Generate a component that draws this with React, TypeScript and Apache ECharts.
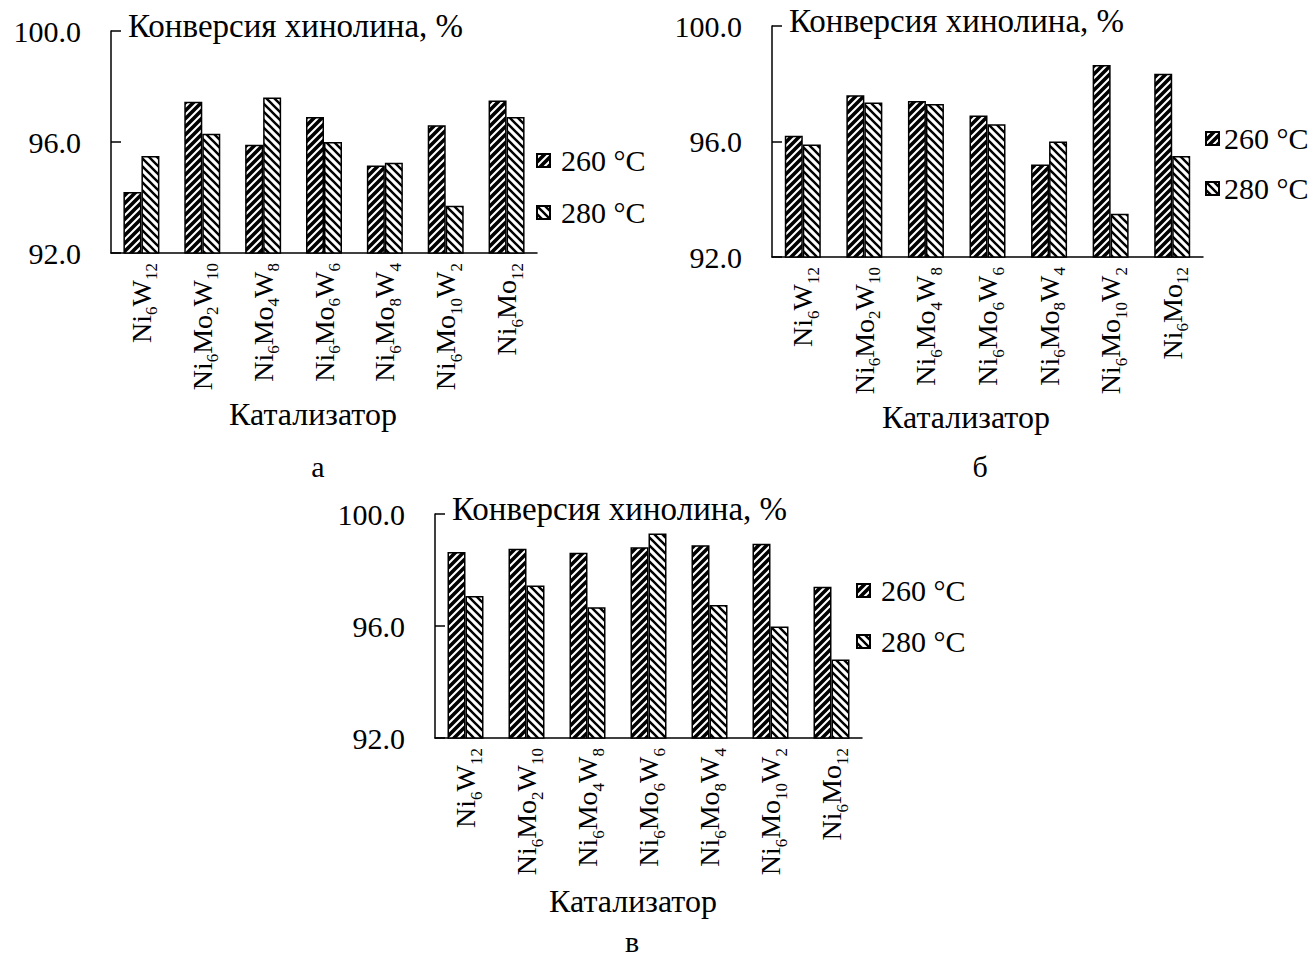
import React, { useEffect, useRef } from 'react';
import * as echarts from 'echarts';

const categories = ['Ni6W12', 'Ni6Mo2W10', 'Ni6Mo4W8', 'Ni6Mo6W6', 'Ni6Mo8W4', 'Ni6Mo10W2', 'Ni6Mo12'];
const seriesNames = ['260 °C', '280 °C'];
const yTicks = [92, 96, 100];

const a260 = [94.2, 97.45, 95.9, 96.9, 95.15, 96.6, 97.5];
const a280 = [95.5, 96.3, 97.6, 96.0, 95.25, 93.7, 96.9];
const b260 = [96.2, 97.6, 97.4, 96.9, 95.2, 98.65, 98.35];
const b280 = [95.9, 97.35, 97.3, 96.6, 96.0, 93.5, 95.5];
const c260 = [98.64, 98.76, 98.62, 98.81, 98.88, 98.94, 97.4];
const c280 = [97.07, 97.45, 96.67, 99.3, 96.75, 95.98, 94.8];

const yTitle = 'Конверсия хинолина, %';
const xTitle = 'Катализатор';
const panelLetters = ['а', 'б', 'в'];

const FONT = '"Liberation Serif", "Times New Roman", serif';

function makePattern(dir: 'up' | 'down', lw: number) {
  const T = 8;
  const c = document.createElement('canvas');
  c.width = T;
  c.height = T;
  const ctx = c.getContext('2d')!;
  ctx.fillStyle = '#fff';
  ctx.fillRect(0, 0, T, T);
  ctx.strokeStyle = '#000';
  ctx.lineWidth = lw;
  ctx.lineCap = 'square';
  for (let k = -1; k <= 1; k++) {
    ctx.beginPath();
    if (dir === 'up') {
      ctx.moveTo(k * T, T);
      ctx.lineTo(k * T + T, 0);
    } else {
      ctx.moveTo(k * T, 0);
      ctx.lineTo(k * T + T, T);
    }
    ctx.stroke();
  }
  return { image: c, repeat: 'repeat', imageWidth: T, imageHeight: T } as any;
}

function richLabel(s: string) {
  return '{n|' + s.replace(/(\d+)/g, '}{s|$1}{n|') + '}';
}

export default function App() {
  const ref = useRef<HTMLDivElement>(null);
  useEffect(() => {
    if (!ref.current) return;
    const chart = echarts.init(ref.current, null, { renderer: 'svg' });
    const p260 = makePattern('up', 3.6);
    const p280 = makePattern('down', 2.4);

    const panels = [
      { grid: { left: 111, top: 31, width: 426, height: 222 }, data: [a260, a280], legend: { left: 531, top: 140 }, gap: 21, pad: 6, xt: [313, 414], letter: [318, 466] },
      { grid: { left: 772, top: 26, width: 431, height: 231 }, data: [b260, b280], legend: { left: 1200, top: 118 }, gap: 19, pad: 0, xt: [966, 417], letter: [980, 466] },
      { grid: { left: 435, top: 514, width: 427, height: 224 }, data: [c260, c280], legend: { left: 851, top: 570 }, gap: 20, pad: 6, xt: [633, 901], letter: [632, 941] },
    ];

    const grids: any[] = [];
    const xAxes: any[] = [];
    const yAxes: any[] = [];
    const series: any[] = [];
    const legends: any[] = [];
    const graphics: any[] = [];

    panels.forEach((p, i) => {
      grids.push({ ...p.grid, containLabel: false });
      xAxes.push({
        type: 'category',
        gridIndex: i,
        data: categories,
        axisLine: { lineStyle: { color: '#000', width: 1.5 } },
        axisTick: { show: false },
        axisLabel: {
          rotate: 90,
          margin: 10,
          interval: 0,
          formatter: (v: string) => richLabel(v),
          rich: {
            n: { fontFamily: FONT, fontSize: 28, color: '#000', lineHeight: 38 },
            s: { fontFamily: FONT, fontSize: 17, color: '#000', verticalAlign: 'bottom' },
          },
        },
      });
      yAxes.push({
        type: 'value',
        gridIndex: i,
        min: yTicks[0],
        max: yTicks[yTicks.length - 1],
        interval: yTicks[1] - yTicks[0],
        axisLine: { show: true, lineStyle: { color: '#000', width: 1.5 } },
        axisTick: { show: true, inside: true, length: 10, lineStyle: { color: '#000', width: 1.5 } },
        splitLine: { show: false },
        axisLabel: {
          margin: 30,
          fontFamily: FONT,
          fontSize: 30,
          color: '#000',
          formatter: (v: number) => v.toFixed(1),
        },
      });
      [p260, p280].forEach((pat, j) => {
        series.push({
          type: 'bar',
          name: seriesNames[j],
          xAxisIndex: i,
          yAxisIndex: i,
          data: p.data[j],
          barWidth: 18,
          barGap: '0%',
          itemStyle: { color: pat, borderColor: '#000', borderWidth: 1.5 },
        });
      });
      legends.push({
        orient: 'vertical',
        left: p.legend.left,
        top: p.legend.top,
        data: seriesNames,
        icon: 'rect',
        itemWidth: 13,
        itemHeight: 13,
        itemGap: p.gap,
        selectedMode: false,
        textStyle: { fontFamily: FONT, fontSize: 30, color: '#000', lineHeight: 31, padding: [0, 0, 0, p.pad] },
      });
      graphics.push({
        type: 'text',
        left: p.grid.left + 17,
        top: p.grid.top - 22,
        style: { text: yTitle, font: `33px ${FONT}`, fill: '#000' },
      });
      graphics.push({
        type: 'text',
        x: p.xt[0],
        y: p.xt[1],
        style: { text: xTitle, font: `32px ${FONT}`, fill: '#000', align: 'center', verticalAlign: 'middle' },
      });
      graphics.push({
        type: 'text',
        x: p.letter[0],
        y: p.letter[1],
        style: { text: panelLetters[i], font: `30px ${FONT}`, fill: '#000', align: 'center', verticalAlign: 'middle' },
      });
    });

    chart.setOption({
      animation: false,
      backgroundColor: '#fff',
      grid: grids,
      xAxis: xAxes,
      yAxis: yAxes,
      series,
      legend: legends,
      graphic: graphics,
    });
    return () => chart.dispose();
  }, []);
  return <div ref={ref} style={{ position: 'fixed', left: 0, top: 0, width: 1308, height: 959, background: '#fff' }} />;
}
